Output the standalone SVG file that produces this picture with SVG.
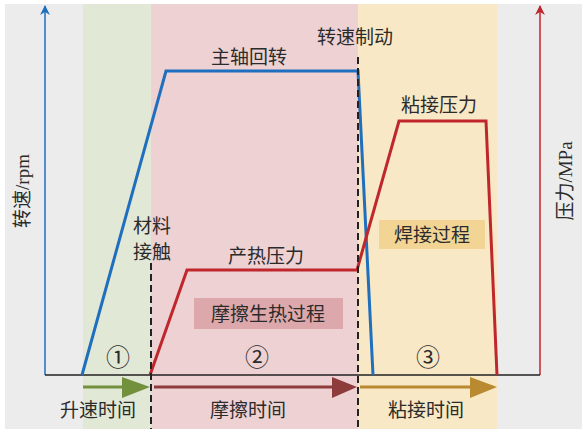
<svg xmlns="http://www.w3.org/2000/svg" width="587" height="431" viewBox="0 0 587 431">
<defs>
<style>
text{font-family:"Liberation Serif","Noto Sans CJK SC",serif;fill:#2b2b2b;font-size:19px}
.c{text-anchor:middle}
.num{font-family:"DejaVu Serif","Noto Sans CJK SC",serif;font-size:24px}
.dash{stroke:#222;stroke-width:2;stroke-dasharray:7,4;fill:none}
</style>
<marker id="ab" viewBox="0 0 10 10" refX="9" refY="5" markerWidth="10" markerHeight="10" markerUnits="userSpaceOnUse" orient="auto"><path d="M0,0 L10,5 L0,10 L3,5 Z" fill="#1f6fbf"/></marker>
<marker id="ar" viewBox="0 0 10 10" refX="9" refY="5" markerWidth="10" markerHeight="10" markerUnits="userSpaceOnUse" orient="auto"><path d="M0,0 L10,5 L0,10 L3,5 Z" fill="#c0272d"/></marker>
</defs>
<rect width="587" height="431" fill="#ffffff"/>
<rect x="5" y="4" width="577" height="425" fill="#ececec"/>
<rect id="band1" x="83" y="4" width="68" height="425" fill="#e2e8d6"/>
<rect id="band2" x="151" y="4" width="207" height="425" fill="#edd1d3"/>
<rect id="band3" x="358" y="4" width="139" height="425" fill="#f8e8c5"/>
<g id="boxes">
<g id="friction"><rect x="194" y="298" width="149" height="31" fill="#dca8ab"/><text class="c" x="268" y="321">摩擦生热过程</text></g>
<g id="weld"><rect x="379" y="220" width="106" height="29" fill="#f2d495"/><text class="c" x="432" y="242">焊接过程</text></g>
</g>
<g id="connectors">
<line x1="45" y1="375" x2="45" y2="6" stroke="#1f6fbf" stroke-width="1.5" marker-end="url(#ab)"/>
<line x1="540" y1="375" x2="540" y2="6" stroke="#c0272d" stroke-width="1.5" marker-end="url(#ar)"/>
<line x1="45" y1="375" x2="540" y2="375" stroke="#222" stroke-width="1.5"/>
<polyline points="82,375 166,71 358,71 373,375" fill="none" stroke="#1f6fbf" stroke-width="3" stroke-linejoin="miter"/>
<polyline points="150,375 187,270 357,270 399,121 486,121 497,375" fill="none" stroke="#c0272d" stroke-width="3"/>
<line class="dash" x1="151" y1="263" x2="151" y2="429"/>
<line class="dash" x1="358" y1="57" x2="358" y2="429"/>
<g id="arrow1"><line x1="83" y1="387" x2="128" y2="387" stroke="#73903d" stroke-width="3"/><path d="M122,377 L150,387 L122,398 Z" fill="#73903d"/></g>
<g id="arrow2"><line x1="154" y1="387" x2="336" y2="387" stroke="#8e3b3b" stroke-width="3"/><path d="M332,377 L357,387 L332,398 Z" fill="#8e3b3b"/></g>
<g id="arrow3"><line x1="360" y1="387" x2="474" y2="387" stroke="#b98a30" stroke-width="3"/><path d="M470,377 L497,387 L470,398 Z" fill="#b98a30"/></g>
</g>
<g id="labels">
<text class="c" transform="translate(29,191) rotate(-90)">转速/rpm</text>
<text class="c" transform="translate(572,181) rotate(-90)">压力/MPa</text>
<text x="211" y="64" font-size="20">主轴回转</text>
<text x="317" y="44" font-size="20">转速制动</text>
<text x="401" y="112" font-size="20">粘接压力</text>
<text x="133" y="233" font-size="20">材料</text>
<text x="133" y="259" font-size="20">接触</text>
<text x="228" y="263" font-size="20">产热压力</text>
<text class="c num" x="118" y="366">①</text>
<text class="c num" x="257" y="366">②</text>
<text class="c num" x="428" y="366">③</text>
<text x="60" y="417" font-size="20">升速时间</text>
<text x="210" y="417" font-size="20">摩擦时间</text>
<text x="388" y="417" font-size="20">粘接时间</text>
</g>
</svg>
